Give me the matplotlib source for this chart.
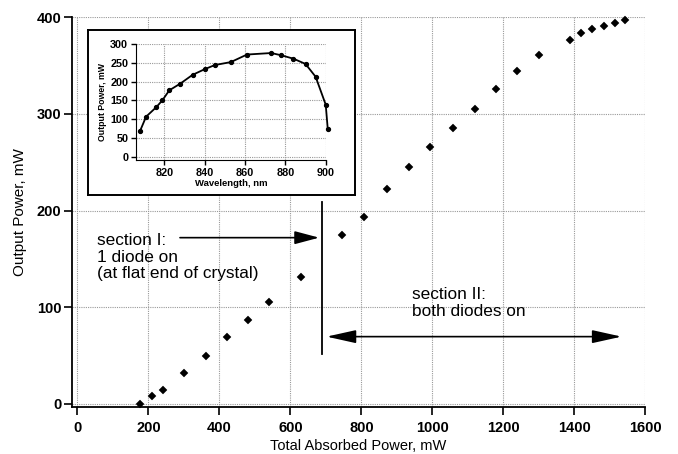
import matplotlib
matplotlib.use("Agg")
import matplotlib.pyplot as plt

plt.rcParams['font.family'] = ['Liberation Sans', 'DejaVu Sans']

# main curve: output power vs total absorbed power
absorbed = [175, 211, 240, 300, 362, 421, 480, 540, 630, 746, 808, 872, 934,
            993, 1057, 1119, 1179, 1239, 1301, 1388, 1419, 1449, 1483, 1514, 1544]
output = [0, 8, 14, 32, 50, 69, 87, 105, 131, 175, 193, 222, 245,
          266, 285, 305, 326, 344, 361, 376, 384, 388, 391, 394, 397]

# inset: output power vs wavelength
wavelength = [808, 811, 816, 819, 822.5, 828, 834, 840, 845, 853, 861,
              873, 878, 884, 890, 895, 900, 901]
inset_power = [69, 107, 132, 150, 177, 195, 218, 233, 244, 252, 272,
               276, 270, 261, 247, 213, 139, 75]

xticks = [0, 200, 400, 600, 800, 1000, 1200, 1400, 1600]
yticks = [0, 100, 200, 300, 400]
inset_xticks = [820, 840, 860, 880, 900]
inset_yticks = [0, 50, 100, 150, 200, 250, 300]

grid_kw = dict(color='0.6', linestyle=(0, (1, 1)), linewidth=0.8)

fig = plt.figure(figsize=(6.78, 4.54), dpi=100)
ax = fig.add_axes([0.1058, 0.1029, 0.8460, 0.8590])

ax.plot(absorbed, output, linestyle='none', marker='D', ms=3.8, mew=0.3,
        color='black', clip_on=False, zorder=3)

ax.set_xlim(-16, 1600)
ax.set_ylim(-3.5, 400)
ax.set_xticks(xticks)
ax.set_yticks(yticks)
ax.grid(True, **grid_kw)
for s in ['top', 'right']:
    ax.spines[s].set_visible(False)
for s in ['left', 'bottom']:
    ax.spines[s].set_linewidth(1.3)
ax.tick_params(direction='out', length=5.8, width=1.2)
ax.tick_params(axis='x', pad=4)
ax.tick_params(axis='y', pad=1.5)
for lab in ax.get_xticklabels() + ax.get_yticklabels():
    lab.set_fontsize(10.5)
    lab.set_fontweight('bold')
ax.set_xlabel("Total Absorbed Power, mW", fontsize=10.5, labelpad=3)
ax.set_ylabel("Output Power, mW", fontsize=11, labelpad=7)

# section markers
ax.plot([690, 690], [52, 209], color='black', linewidth=1.3, zorder=3)
ax.annotate('', xy=(681, 172), xytext=(289, 172),
            arrowprops=dict(arrowstyle='-|>,head_length=1.5,head_width=0.4',
                            color='black', lw=1.2, shrinkA=0, shrinkB=0,
                            mutation_scale=10))
ax.annotate('', xy=(1533, 69.6), xytext=(702, 69.6),
            arrowprops=dict(arrowstyle='<|-|>,head_length=1.8,head_width=0.4',
                            color='black', lw=1.2, shrinkA=0, shrinkB=0,
                            mutation_scale=10))
ax.text(56, 151.7, "section I:\n1 diode on\n(at flat end of crystal)",
        fontsize=12.4, va='center', ha='left', linespacing=1.12)
ax.text(942, 104.5, "section II:\nboth diodes on",
        fontsize=12.4, va='center', ha='left', linespacing=1.12)

# inset frame
box = fig.add_axes([0.1305, 0.5705, 0.3931, 0.3634])
box.set_xticks([])
box.set_yticks([])
box.set_facecolor('white')
for s in box.spines.values():
    s.set_linewidth(1.4)

ins = fig.add_axes([0.2006, 0.6476, 0.2798, 0.2555])
ins.plot(wavelength, inset_power, color='black', linewidth=1.3,
         marker='o', ms=2.8, clip_on=False)
ins.set_xlim(806, 900)
ins.set_ylim(-8, 300)
ins.set_xticks(inset_xticks)
ins.set_yticks(inset_yticks)
ins.grid(True, **grid_kw)
for s in ['top', 'right']:
    ins.spines[s].set_visible(False)
ins.tick_params(direction='out', length=3.6, width=1, pad=2)
for lab in ins.get_xticklabels() + ins.get_yticklabels():
    lab.set_fontsize(7.8)
    lab.set_fontweight('bold')
ins.set_xlabel("Wavelength, nm", fontsize=6.8, fontweight='bold', labelpad=1)
ins.set_ylabel("Output Power, mW", fontsize=6.3, fontweight='bold', labelpad=2)

fig.savefig("out.png", dpi=100)
